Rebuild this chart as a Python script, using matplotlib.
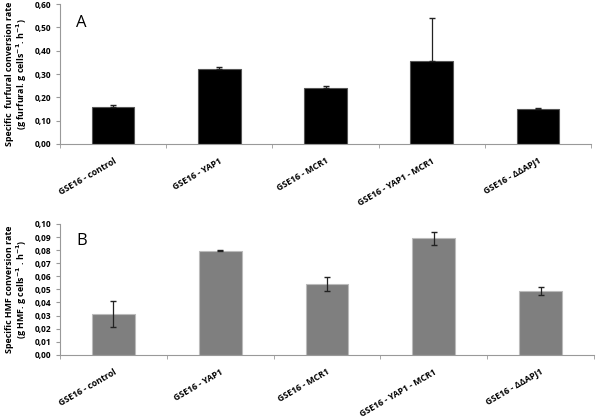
import matplotlib.pyplot as plt
import numpy as np

strains = ["GSE16 - control", "GSE16 - YAP1", "GSE16 - MCR1",
           "GSE16 - YAP1 - MCR1", "GSE16 - ΔΔAPJ1"]

furfural_rate = [0.160, 0.320, 0.240, 0.355, 0.150]
furfural_err = [0.005, 0.008, 0.010, 0.185, 0.003]

hmf_rate = [0.031, 0.0795, 0.054, 0.089, 0.049]
hmf_err = [0.010, 0.0005, 0.0055, 0.005, 0.003]

plt.rcParams['font.family'] = ['Open Sans', 'DejaVu Sans']
plt.rcParams['font.weight'] = 'bold'

fig = plt.figure(figsize=(6, 4.17), dpi=100)
ax1 = fig.add_axes([0.1, 0.655, 0.885, 0.335])
ax2 = fig.add_axes([0.1, 0.149, 0.89, 0.314])

x = np.arange(len(strains))


def draw_panel(ax, values, errors, color, edge, ymax, step, letter, ylabel, upper_only):
    yerr = [np.zeros(len(errors)), errors] if upper_only else errors
    ax.bar(x, values, width=0.4, color=color, edgecolor=edge, linewidth=0.8,
           yerr=yerr, capsize=2, error_kw=dict(elinewidth=0.9, ecolor="#222222"))
    ax.set_xlim(-0.5, len(strains) - 0.5)
    ax.set_ylim(0, ymax)
    ticks = np.arange(0, ymax + step / 2, step)
    ax.set_yticks(ticks)
    ax.set_yticklabels([f"{t:.2f}".replace(".", ",") for t in ticks],
                       fontsize=6, fontweight="bold")
    ax.set_xticks(x)
    ax.set_xticklabels(strains, rotation=30, ha="right", rotation_mode="anchor",
                       fontsize=6.3, fontweight="bold")
    ax.set_xticks(np.arange(-0.5, len(strains)), minor=True)
    ax.tick_params(axis="x", which="major", length=0, pad=9)
    ax.tick_params(axis="x", which="minor", length=3, color="#999999", direction="out")
    ax.tick_params(axis="y", length=3, color="#999999", pad=3)
    for s in ["top", "right"]:
        ax.spines[s].set_visible(False)
    for s in ["left", "bottom"]:
        ax.spines[s].set_color("#999999")
        ax.spines[s].set_linewidth(0.8)
    ax.text(0.03, 0.84, letter, transform=ax.transAxes, fontsize=12,
            fontweight="normal")
    ax.set_ylabel(ylabel, fontsize=6.4, fontweight="bold", labelpad=4,
                  linespacing=1.1)


draw_panel(ax1, furfural_rate, furfural_err, "black", "#555555", 0.6, 0.1, "A",
           "Specific  furfural conversion rate\n(g furfural. g cells$^{\\mathbf{-1}}$. h$^{\\mathbf{-1}}$)",
           True)
draw_panel(ax2, hmf_rate, hmf_err, "#7f7f7f", "#bbbbbb", 0.1, 0.01, "B",
           "Specific HMF conversion rate\n(g HMF. g cells$^{\\mathbf{-1}}$ . h$^{\\mathbf{-1}}$)",
           False)

fig.savefig("out.png", dpi=100)
